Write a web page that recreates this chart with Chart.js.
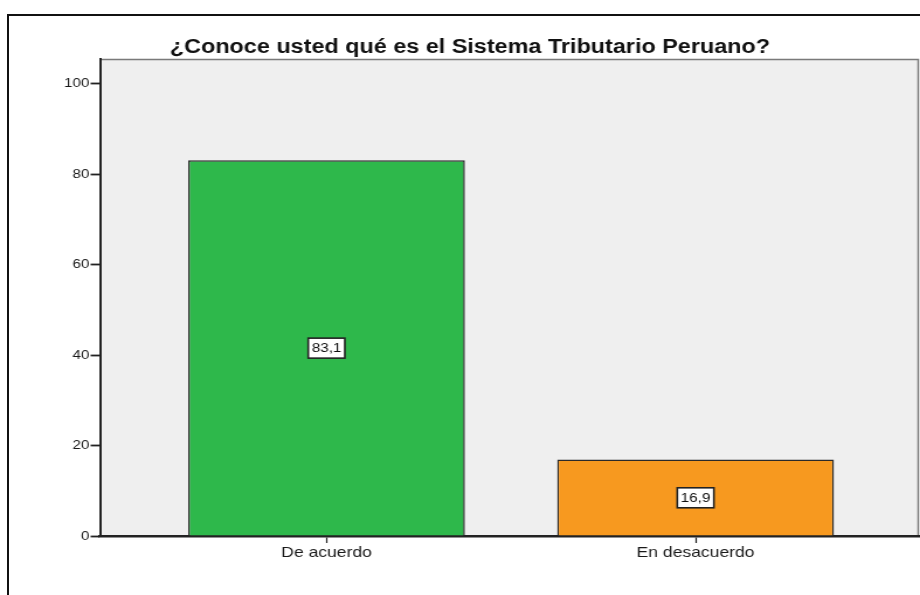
<!DOCTYPE html>
<html>
<head>
<meta charset="utf-8">
<script src="https://cdn.jsdelivr.net/npm/chart.js@4/dist/chart.umd.min.js"></script>
<style>
  html, body { margin: 0; padding: 0; background: #fff; width: 920px; height: 595px; overflow: hidden; }
  #frame { position: absolute; left: 7px; top: 14px; width: 1000px; height: 1000px; border: 2px solid #111; }
  /* SPSS output is horizontally stretched, so draw narrower and stretch */
  #wrap { position: absolute; left: 0; top: 0; width: 787px; height: 595px; transform: scaleX(1.169); transform-origin: 0 0; }
</style>
</head>
<body>
<div id="frame"></div>
<div id="wrap"><canvas id="chart"></canvas></div>
<script>
const TITLE = '¿Conoce usted qué es el Sistema Tributario Peruano?';
const categories = ['De acuerdo', 'En desacuerdo'];
const percents = [83.1, 16.9];
const barColors = ['#2EB84B', '#F7991F'];
const yTicks = [0, 20, 40, 60, 80, 100];
const FONT = "'Liberation Sans', Arial, sans-serif";

// plot background + top/right frame lines
const plotBg = {
  id: 'plotBg',
  beforeDraw(chart) {
    const { ctx, chartArea: a } = chart;
    ctx.save();
    ctx.fillStyle = '#EFEFEF';
    ctx.fillRect(a.left, a.top, a.right - a.left, a.bottom - a.top);
    ctx.strokeStyle = '#7a7a7a';
    ctx.lineWidth = 1.5;
    ctx.beginPath();
    ctx.moveTo(a.left, a.top + 0.5);
    ctx.lineTo(a.right - 0.5, a.top + 0.5);
    ctx.lineTo(a.right - 0.5, a.bottom);
    ctx.stroke();
    ctx.restore();
  }
};

// boxed value labels in the middle of each bar
const valueBoxes = {
  id: 'valueBoxes',
  afterDatasetsDraw(chart) {
    const { ctx } = chart;
    const y = chart.scales.y;
    ctx.save();
    ctx.font = '13px ' + FONT;
    ctx.textAlign = 'center';
    ctx.textBaseline = 'middle';
    chart.getDatasetMeta(0).data.forEach((bar, i) => {
      const txt = percents[i].toFixed(1).replace('.', ',');
      const cy = y.getPixelForValue(percents[i] / 2);
      const w = ctx.measureText(txt).width + 6;
      const h = 20;
      ctx.fillStyle = '#fff';
      ctx.fillRect(bar.x - w / 2, cy - h / 2, w, h);
      ctx.strokeStyle = '#222';
      ctx.lineWidth = 1.6;
      ctx.strokeRect(bar.x - w / 2, cy - h / 2, w, h);
      ctx.fillStyle = '#111';
      ctx.fillText(txt, bar.x, cy + 0.5);
    });
    ctx.restore();
  }
};

const titleText = {
  id: 'titleText',
  afterDraw(chart) {
    const { ctx } = chart;
    ctx.save();
    ctx.font = 'bold 20px ' + FONT;
    ctx.fillStyle = '#111';
    ctx.textAlign = 'center';
    ctx.textBaseline = 'alphabetic';
    ctx.fillText(TITLE, 402, 53);
    ctx.restore();
  }
};

new Chart(document.getElementById('chart'), {
  type: 'bar',
  data: {
    datasets: [{
      data: percents.map((v, i) => ({ x: i + 1, y: v })),
      backgroundColor: barColors,
      borderColor: '#2a2a2a',
      borderWidth: 1.5,
      barPercentage: 0.75,
      categoryPercentage: 1
    }]
  },
  options: {
    responsive: true,
    maintainAspectRatio: false,
    animation: false,
    layout: { padding: { top: 59, right: 1, bottom: 0, left: 0 } },
    plugins: { legend: { display: false }, tooltip: { enabled: false }, title: { display: false } },
    scales: {
      x: {
        type: 'linear',
        offset: false,
        min: 0.386,
        max: 2.605,
        afterBuildTicks: s => { s.ticks = categories.map((c, i) => ({ value: i + 1 })); },
        afterFit: s => { s.height = 59; },
        ticks: {
          callback: v => categories[v - 1],
          color: '#1a1a1a',
          font: { family: FONT, size: 15 },
          padding: 1,
          maxRotation: 0
        },
        grid: { drawOnChartArea: false, offset: false, tickLength: 7, tickColor: '#222', tickWidth: 1.2 },
        border: { color: '#222', width: 2.5 }
      },
      y: {
        min: 0,
        max: 105.5,
        afterBuildTicks: s => { s.ticks = yTicks.map(v => ({ value: v })); },
        afterFit: s => { s.width = 85.5; },
        ticks: { color: '#1a1a1a', font: { family: FONT, size: 13 }, padding: 1 },
        grid: { drawOnChartArea: false, tickLength: 8, tickColor: '#222', tickWidth: 1.8 },
        border: { color: '#222', width: 2 }
      }
    }
  },
  plugins: [plotBg, valueBoxes, titleText]
});
</script>
</body>
</html>
